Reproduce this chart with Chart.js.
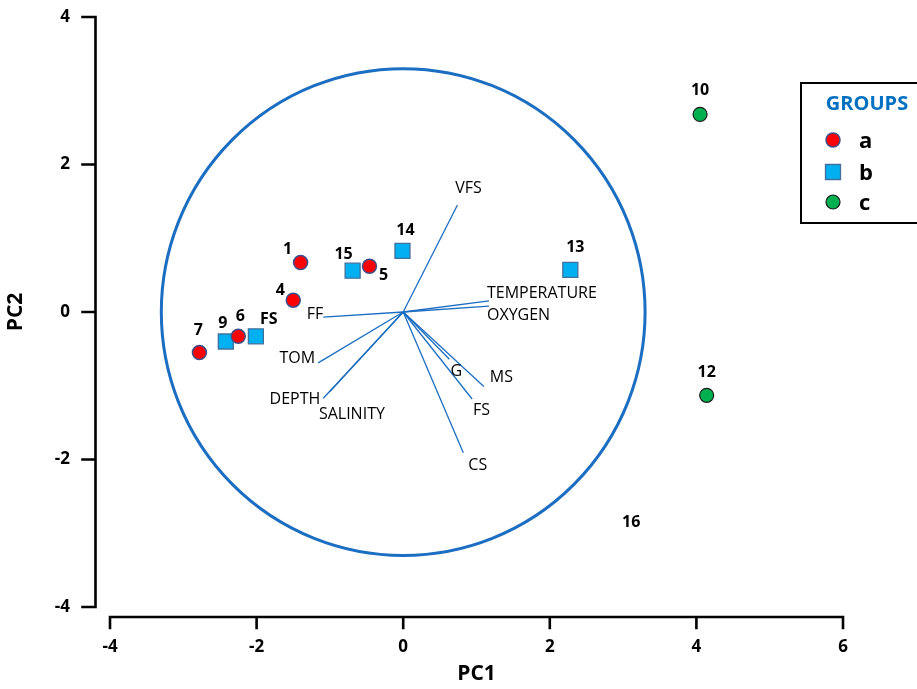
<!DOCTYPE html>
<html>
<head>
<meta charset="utf-8">
<title>PCA biplot</title>
<script src="https://cdn.jsdelivr.net/npm/chart.js@4.4.1/dist/chart.umd.min.js"></script>
<style>
  html, body { margin: 0; padding: 0; background: #fff; }
</style>
</head>
<body>
<canvas id="pca" width="917" height="689"></canvas>
<script>
// sample scores, one set of arrays per group
const groupNames = ['a', 'b', 'c'];
const aLabels = ['1', '5', '4', '7', '6'];
const aPC1 = [-1.40, -0.46, -1.50, -2.78, -2.25];
const aPC2 = [0.67, 0.62, 0.16, -0.55, -0.33];
const bLabels = ['15', '14', '9', 'FS', '13'];
const bPC1 = [-0.69, -0.01, -2.42, -2.01, 2.28];
const bPC2 = [0.56, 0.83, -0.40, -0.33, 0.57];
const cLabels = ['10', '12'];
const cPC1 = [4.05, 4.14];
const cPC2 = [2.68, -1.13];
// sample 16 only shows its number
const loneLabels = ['16'];
const lonePC1 = [3.11];
const lonePC2 = [-2.85];

// variable loadings (lines from the origin)
const varNames = ['VFS', 'TEMPERATURE', 'OXYGEN', 'FF', 'TOM', 'DEPTH', 'SALINITY', 'G', 'MS', 'FS', 'CS'];
const varPC1 = [0.74, 1.17, 1.17, -1.09, -1.16, -1.09, -1.00, 0.63, 1.10, 0.94, 0.82];
const varPC2 = [1.45, 0.15, 0.08, -0.07, -0.69, -1.17, -1.08, -0.64, -1.01, -1.18, -1.91];

const circleRadius = 3.3;
const xTicks = [-4, -2, 0, 2, 4, 6];
const yTicks = [-4, -2, 0, 2, 4];

const FONT = "'Open Sans', 'DejaVu Sans', sans-serif";
const BLUE = '#1b6ec2';

// marker look per group
const groupStyle = [
  { pointStyle: 'circle', radius: 7, bg: '#ff0000', border: '#3d4f8a', borderWidth: 1.5 },
  { pointStyle: 'rect', radius: 10.6, bg: '#00b0f0', border: '#41709f', borderWidth: 1.3 },
  { pointStyle: 'circle', radius: 7, bg: '#00b050', border: '#1a1a1a', borderWidth: 1.2 }
];

// where each label sits relative to its mark (pixels)
const sampleLabelOffset = {
  '1': [-13, -13], '15': [-9, -16], '5': [14, 9], '14': [3, -20], '4': [-13, -10],
  '7': [-1, -22], '9': [-3, -18], '6': [2, -20], 'FS': [13, -17], '13': [5, -23],
  '10': [0, -24], '12': [0, -23], '16': [0, 0]
};
const varLabelPos = {
  'VFS': ['center', 11, -17], 'TEMPERATURE': ['left', -2, -8], 'OXYGEN': ['left', -2, 9],
  'FF': ['right', 0, -3], 'TOM': ['right', -3, -4], 'DEPTH': ['right', -3, 1],
  'SALINITY': ['left', -11, 23], 'G': ['center', 7, 12], 'MS': ['left', 6, -9],
  'FS': ['left', 1, 11], 'CS': ['left', 5, 13]
};

function toPoints(xs, ys) {
  return xs.map((v, i) => ({ x: v, y: ys[i] }));
}

const groups = [
  { labels: aLabels, data: toPoints(aPC1, aPC2) },
  { labels: bLabels, data: toPoints(bPC1, bPC2) },
  { labels: cLabels, data: toPoints(cPC1, cPC2) }
];

const datasets = [];
groups.forEach((g, i) => {
  const s = groupStyle[i];
  datasets.push({
    label: groupNames[i],
    data: g.data,
    pointStyle: s.pointStyle,
    pointRadius: s.radius,
    pointBackgroundColor: s.bg,
    pointBorderColor: s.border,
    pointBorderWidth: s.borderWidth,
    order: 0
  });
});
varNames.forEach((name, i) => {
  datasets.push({
    label: name,
    data: [{ x: 0, y: 0 }, { x: varPC1[i], y: varPC2[i] }],
    showLine: true,
    borderColor: BLUE,
    borderWidth: 1.3,
    pointRadius: 0,
    order: 1
  });
});

const biplotDecor = {
  id: 'biplotDecor',
  beforeDatasetsDraw(chart) {
    const { ctx, chartArea, scales: { x, y } } = chart;
    ctx.save();
    // correlation circle
    const cx = x.getPixelForValue(0), cy = y.getPixelForValue(0);
    const rx = x.getPixelForValue(circleRadius) - cx;
    const ry = cy - y.getPixelForValue(circleRadius);
    ctx.strokeStyle = BLUE;
    ctx.lineWidth = 3;
    ctx.beginPath();
    ctx.ellipse(cx, cy, rx, ry, 0, 0, Math.PI * 2);
    ctx.stroke();

    // detached axes
    ctx.strokeStyle = '#000';
    ctx.lineWidth = 2.6;
    ctx.lineCap = 'square';
    const ax = chartArea.left - 14.5;
    ctx.beginPath();
    ctx.moveTo(ax, y.getPixelForValue(yTicks[yTicks.length - 1]));
    ctx.lineTo(ax, y.getPixelForValue(yTicks[0]));
    yTicks.forEach(v => {
      const py = y.getPixelForValue(v);
      ctx.moveTo(ax, py);
      ctx.lineTo(ax - 13, py);
    });
    const ay = chartArea.bottom + 10;
    ctx.moveTo(x.getPixelForValue(xTicks[0]), ay);
    ctx.lineTo(x.getPixelForValue(xTicks[xTicks.length - 1]), ay);
    xTicks.forEach(v => {
      const px = x.getPixelForValue(v);
      ctx.moveTo(px, ay);
      ctx.lineTo(px, ay + 11);
    });
    ctx.stroke();
    ctx.restore();
  },
  afterDatasetsDraw(chart) {
    const { ctx, scales: { x, y } } = chart;
    ctx.save();
    ctx.fillStyle = '#000';
    ctx.textBaseline = 'middle';

    // variable names
    ctx.font = '16px ' + FONT;
    varNames.forEach((name, i) => {
      const [align, dx, dy] = varLabelPos[name];
      ctx.textAlign = align;
      ctx.fillText(name, x.getPixelForValue(varPC1[i]) + dx, y.getPixelForValue(varPC2[i]) + dy);
    });

    // sample numbers
    ctx.font = 'bold 16px ' + FONT;
    ctx.textAlign = 'center';
    const all = [];
    groups.forEach(g => g.labels.forEach((l, i) => all.push([l, g.data[i]])));
    loneLabels.forEach((l, i) => all.push([l, { x: lonePC1[i], y: lonePC2[i] }]));
    all.forEach(([l, p]) => {
      const off = sampleLabelOffset[l] || [0, -20];
      ctx.fillText(l, x.getPixelForValue(p.x) + off[0], y.getPixelForValue(p.y) + off[1]);
    });

    // legend box
    ctx.strokeStyle = '#000';
    ctx.lineWidth = 2;
    ctx.strokeRect(801, 83, 140, 140);
    ctx.fillStyle = '#0070c0';
    ctx.font = 'bold 20px ' + FONT;
    ctx.fillText('GROUPS', 867, 104);
    const rows = [140, 172, 202];
    groupNames.forEach((name, i) => {
      const s = groupStyle[i];
      ctx.fillStyle = s.bg;
      ctx.strokeStyle = s.border;
      ctx.lineWidth = s.borderWidth;
      Chart.helpers.drawPoint(ctx, { pointStyle: s.pointStyle, radius: s.radius, borderWidth: s.borderWidth, rotation: 0 }, 833, rows[i]);
      ctx.fillStyle = '#000';
      ctx.font = 'bold 22px ' + FONT;
      ctx.textAlign = 'left';
      ctx.textBaseline = 'alphabetic';
      ctx.fillText(name, 859, rows[i] + 8);
      ctx.textBaseline = 'middle';
      ctx.textAlign = 'center';
    });
    ctx.restore();
  }
};

new Chart(document.getElementById('pca'), {
  type: 'scatter',
  data: { datasets },
  options: {
    responsive: false,
    animation: false,
    events: [],
    layout: { padding: { top: 17, right: 74, left: 0, bottom: 0 } },
    plugins: { legend: { display: false }, tooltip: { enabled: false } },
    scales: {
      x: {
        type: 'linear', min: -4, max: 6,
        afterBuildTicks: s => { s.ticks = xTicks.map(v => ({ value: v })); },
        afterFit: s => { s.height = 82; s.paddingLeft = 0; s.paddingRight = 0; },
        grid: { display: false, drawTicks: false },
        border: { display: false },
        ticks: { padding: 30, color: '#000', font: { family: FONT, size: 17, weight: 'bold' } },
        title: { display: true, text: 'PC1', color: '#000', padding: { top: 0, bottom: 2 },
                 font: { family: FONT, size: 21, weight: 'bold' } }
      },
      y: {
        type: 'linear', min: -4, max: 4,
        afterBuildTicks: s => { s.ticks = yTicks.map(v => ({ value: v })); },
        afterFit: s => { s.width = 110; s.paddingTop = 0; s.paddingBottom = 0; },
        grid: { display: false, drawTicks: false },
        border: { display: false },
        ticks: { padding: 40, color: '#000', font: { family: FONT, size: 17, weight: 'bold' } },
        title: { display: true, text: 'PC2', color: '#000', padding: { top: 3, bottom: 0 },
                 font: { family: FONT, size: 21, weight: 'bold' } }
      }
    }
  },
  plugins: [biplotDecor]
});
</script>
</body>
</html>
